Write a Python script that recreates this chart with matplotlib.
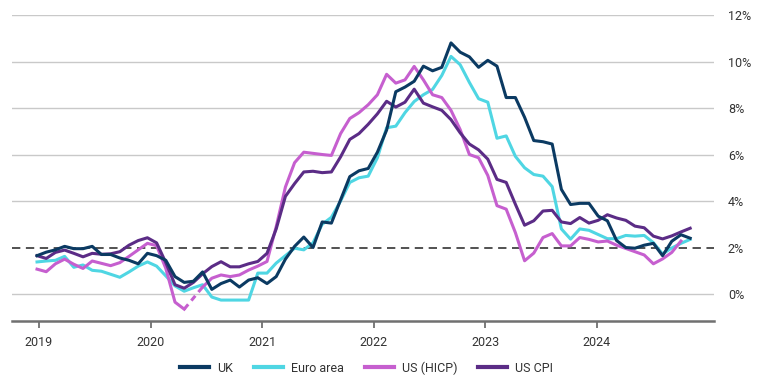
import numpy as np
import matplotlib
matplotlib.use("Agg")
import matplotlib.pyplot as plt

plt.rcParams['font.family'] = ['Roboto', 'DejaVu Sans']
plt.rcParams['lines.scale_dashes'] = False

years = [2019, 2020, 2021, 2022, 2023, 2024]
year_labels = ["2019", "2020", "2021", "2022", "2023", "2024"]

uk = [1.65, 1.8, 1.9, 2.05, 1.95, 1.95, 2.05, 1.7, 1.7, 1.55, 1.45, 1.3,
      1.75, 1.65, 1.45, 0.75, 0.5, 0.55, 0.95, 0.2, 0.45, 0.6, 0.3, 0.6,
      0.7, 0.45, 0.75, 1.5, 2.05, 2.45, 2.0, 3.1, 3.05, 4.05, 5.05, 5.3,
      5.4, 6.1, 7.05, 8.7, 8.9, 9.15, 9.8, 9.6, 9.75, 10.8, 10.4, 10.2,
      9.75, 10.05, 9.8, 8.45, 8.45, 7.6, 6.6, 6.55, 6.45, 4.5, 3.85, 3.9,
      3.9, 3.35, 3.15, 2.3, 2.0, 1.97, 2.1, 2.18, 1.65, 2.27, 2.55, 2.4]

euro = [1.38, 1.42, 1.45, 1.62, 1.15, 1.25, 1.02, 0.98, 0.85, 0.72, 0.95, 1.2,
        1.38, 1.2, 0.78, 0.35, 0.12, 0.27, 0.4, -0.13, -0.26, -0.26, -0.26, -0.26,
        0.9, 0.9, 1.33, 1.65, 1.97, 1.9, 2.2, 3.0, 3.3, 4.0, 4.8, 5.0,
        5.07, 5.86, 7.15, 7.22, 7.8, 8.28, 8.57, 8.8, 9.4, 10.22, 9.86, 9.1,
        8.4, 8.25, 6.7, 6.8, 5.92, 5.43, 5.14, 5.07, 4.62, 2.8, 2.36, 2.8,
        2.74, 2.56, 2.38, 2.38, 2.52, 2.49, 2.52, 2.21, 1.72, 1.98, 2.18, 2.35]

us_hicp = [1.07, 0.96, 1.3, 1.5, 1.28, 1.1, 1.42, 1.32, 1.22, 1.35, 1.62, 1.9,
           2.18, 2.08, 1.1, -0.35, -0.65, np.nan, 0.3, 0.68, 0.82, 0.75, 0.82, 1.03,
           1.2, 1.4, 2.9, 4.6, 5.65, 6.1, 6.05, 6.0, 5.96, 6.9, 7.55, 7.8,
           8.14, 8.57, 9.45, 9.07, 9.21, 9.79, 9.21, 8.57, 8.45, 7.9, 7.07, 6.0,
           5.86, 5.1, 3.8, 3.65, 2.64, 1.43, 1.76, 2.43, 2.6, 2.07, 2.07, 2.43,
           2.35, 2.24, 2.28, 2.1, 1.96, 1.82, 1.68, 1.3, 1.51, 1.79, 2.28, np.nan]

us_cpi = [1.65, 1.53, 1.79, 1.89, 1.75, 1.6, 1.75, 1.71, 1.73, 1.82, 2.1, 2.3,
          2.42, 2.2, 1.35, 0.4, 0.25, 0.5, 0.87, 1.18, 1.39, 1.17, 1.17, 1.3,
          1.4, 1.75, 2.8, 4.2, 4.75, 5.25, 5.28, 5.22, 5.25, 5.9, 6.65, 6.9,
          7.3, 7.75, 8.29, 8.04, 8.25, 8.81, 8.21, 8.05, 7.9, 7.5, 6.93, 6.45,
          6.2, 5.8, 4.93, 4.8, 3.86, 2.96, 3.15, 3.57, 3.6, 3.1, 3.03, 3.29,
          3.05, 3.17, 3.41, 3.27, 3.17, 2.92, 2.85, 2.49, 2.37, 2.5, 2.67, 2.83]

target = 2.0
y_ticks = [0, 2, 4, 6, 8, 10, 12]

c_uk = '#0b3a62'
c_euro = '#4fd6e3'
c_hicp = '#c65fcf'
c_cpi = '#5b2c86'

months = np.arange(len(uk))

fig = plt.figure(figsize=(7.7, 3.81), dpi=100)
ax = fig.add_axes([12/770, 1-321/381, (714-12)/770, (321-15)/381])

for v in y_ticks:
    if v != target:
        ax.axhline(v, color='#c9c9c9', lw=1.0, zorder=1)
ax.axhline(target, color='#333333', lw=1.2, dashes=(6, 4), zorder=2)

lw = 2.2
ax.plot(months, uk, color=c_uk, lw=lw, label='UK', zorder=6)
ax.plot(months, euro, color=c_euro, lw=lw, label='Euro area', zorder=3)
ax.plot(months, us_hicp, color=c_hicp, lw=lw, label='US (HICP)', zorder=4)
# dashed bridge over the missing HICP month
h = np.array(us_hicp, dtype=float)
gap = np.where(np.isnan(h[:-1]))[0]
for g in gap:
    if g > 0 and g + 1 < len(h) and not np.isnan(h[g + 1]):
        ax.plot([months[g-1], months[g+1]], [h[g-1], h[g+1]], color=c_hicp,
                lw=lw, dashes=(4.5, 3.5), zorder=4)
ax.plot(months, us_cpi, color=c_cpi, lw=lw, label='US CPI', zorder=5)

ax.set_ylim(-1.16, 12)
ax.set_xlim(-2.72, 73.59)

tick_pos = [0.22 + 12.13 * (y - years[0]) for y in years]
ax.set_xticks(tick_pos)
ax.set_xticklabels(year_labels)

ax.yaxis.tick_right()
ax.set_yticks(y_ticks)
ax.set_yticklabels([f"{v}%" for v in y_ticks])

for s in ['top', 'left', 'right']:
    ax.spines[s].set_visible(False)
ax.spines['bottom'].set_color('#707070')
ax.spines['bottom'].set_linewidth(1.8)
ax.spines['bottom'].set_zorder(7)

ax.tick_params(axis='x', direction='out', length=5, width=1.3, color='#707070',
               labelsize=9, labelcolor='#333333', pad=6)
ax.tick_params(axis='y', length=0, labelsize=9, labelcolor='#333333', pad=10)

handles, labels = ax.get_legend_handles_labels()
leg = fig.legend(handles, labels, loc='center', bbox_to_anchor=(0.476, 0.034), ncol=4,
                 frameon=False, fontsize=9, handlelength=2.3, handletextpad=0.65,
                 columnspacing=1.7, labelcolor='#333333')
for line in leg.get_lines():
    line.set_linewidth(3)

fig.savefig('out.png', dpi=100)
